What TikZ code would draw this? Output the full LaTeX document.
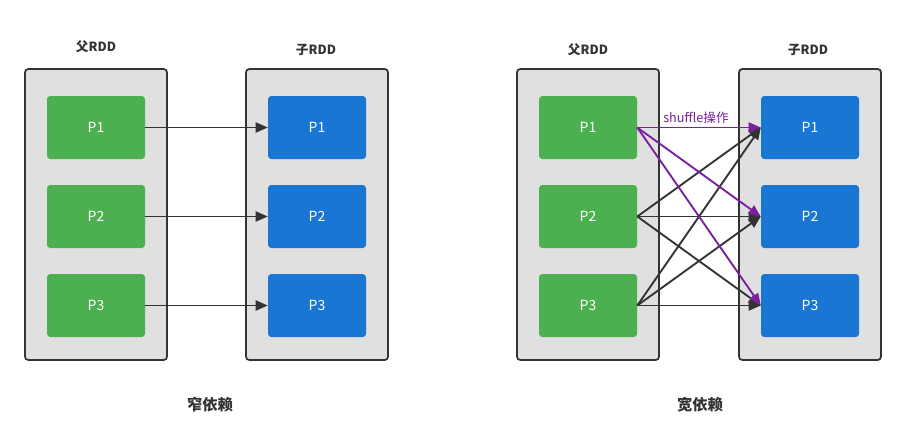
\documentclass[tikz,border=0pt]{standalone}
\usepackage{fontspec}
\setmainfont{Noto Sans CJK SC}
\usetikzlibrary{arrows.meta}
\definecolor{boxgray}{HTML}{E0E0E0}
\definecolor{linegray}{HTML}{333333}
\definecolor{pgreen}{HTML}{4CAF50}
\definecolor{pblue}{HTML}{1976D2}
\definecolor{shufflepurple}{HTML}{7B1FA2}
\tikzset{
  rdd/.style={draw=linegray, line width=1.3pt, fill=boxgray, rounded corners=2.5pt,
    minimum width=106.5pt, minimum height=218.25pt},
  parent/.style={fill=pgreen, rounded corners=2.5pt, text=white, font=\fontsize{10.5}{12}\selectfont,
    minimum width=73.5pt, minimum height=47.25pt},
  child/.style={parent, fill=pblue},
  title/.style={font=\bfseries\fontsize{9.5}{11}\selectfont, text=linegray},
  deplabel/.style={font=\bfseries\fontsize{11.5}{13}\selectfont, text=linegray},
  dep/.style={draw=linegray, line width=1.4pt, -{Triangle[length=9pt,width=7.5pt]}},
  shuffle/.style={dep, draw=shufflepurple}
}
\begin{document}
\begin{tikzpicture}[x=0.75pt,y=-0.75pt]
\useasboundingbox (0,0) rectangle (905,447);
% narrow dependency
\node[rdd] (lpar) at (96,214.5){};
\node[rdd] (lchi) at (317,214.5){};
\node[title] at (96,47){父RDD};
\node[title] at (316,50){子RDD};
\foreach \i/\y in {1/127.5,2/216.5,3/305.5}{
  \node[parent] (lp\i) at (96,\y){P\i};
  \node[child] (lc\i) at (317,\y){P\i};
  \draw[dep] (lp\i) -- (lc\i);
}
\node[deplabel] (narrow) at (210,405){窄依赖};

% wide dependency
\node[rdd] (rpar) at (588,214.5){};
\node[rdd] (rchi) at (810,214.5){};
\node[title] at (588,50){父RDD};
\node[title] at (808,50){子RDD};
\foreach \i/\y in {1/127.5,2/216.5,3/305.5}{
  \node[parent] (rp\i) at (588,\y){P\i};
  \node[child] (rc\i) at (810,\y){P\i};
}
\foreach \s in {2,3}
  \foreach \t in {1,2,3}
    \draw[dep] (rp\s.east) -- (rc\t.west);
\foreach \t in {1,2,3}
  \draw[shuffle] (rp1.east) -- (rc\t.west);
\node[font=\fontsize{9.5}{11}\selectfont, text=shufflepurple] (shufflelabel) at (696,118){shuffle操作};
\node[deplabel] (wide) at (700,405){宽依赖};
\end{tikzpicture}
\end{document}
